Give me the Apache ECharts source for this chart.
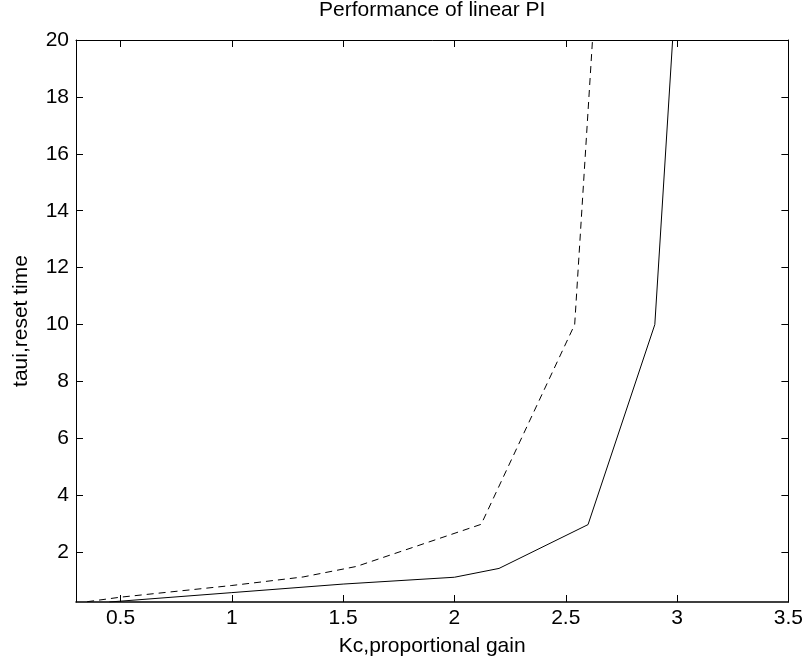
<!DOCTYPE html>
<html>
<head>
<meta charset="utf-8">
<script src="https://cdn.jsdelivr.net/npm/echarts@6/dist/echarts.min.js"></script>
<style>html,body{margin:0;padding:0;background:#fff}#c{width:806px;height:662px}</style>
</head>
<body>
<div id="c"></div>
<script>
const titleText = "Performance of linear PI";
const xName = "Kc,proportional gain";
const yName = "taui,reset time";
const xTicks = [0.5, 1, 1.5, 2, 2.5, 3, 3.5];
const yTicks = [2, 4, 6, 8, 10, 12, 14, 16, 18, 20];
const solidKc = [0.45, 1.0, 1.5, 2.0, 2.2, 2.6, 2.9, 2.98];
const solidTaui = [0.25, 0.58, 0.88, 1.12, 1.43, 2.97, 10.0, 20.0];
const dashedKc = [0.35, 0.5, 1.0, 1.32, 1.56, 2.12, 2.54, 2.62];
const dashedTaui = [0.26, 0.42, 0.83, 1.13, 1.5, 2.98, 10.0, 20.0];

const F = 'Liberation Sans';
const black = '#000';
const chart = echarts.init(document.getElementById('c'));
const pair = (xs, ys) => xs.map((x, i) => [x, ys[i]]);
const baseAxis = {
  type: 'value',
  axisLine: { show: true, onZero: false, lineStyle: { color: black, width: 1 } },
  splitLine: { show: false },
};
chart.setOption({
  animation: false,
  backgroundColor: '#fff',
  title: { text: titleText, left: 319, top: 0, padding: 0,
    textStyle: { fontFamily: F, fontSize: 21, fontWeight: 'normal', color: black } },
  grid: { left: 76, right: 17, top: 40, bottom: 59, containLabel: false },
  xAxis: [
    Object.assign({}, baseAxis, {
      min: 0.3, max: 3.5, position: 'bottom',
      axisLine: { show: true, onZero: false, lineStyle: { color: black, width: 1.5 } },
      axisTick: { show: true, inside: true, length: 7, customValues: xTicks, lineStyle: { color: black } },
      axisLabel: { customValues: xTicks, margin: 6, fontFamily: F, fontSize: 21, color: black },
      name: xName, nameLocation: 'middle', nameGap: 34,
      nameTextStyle: { fontFamily: F, fontSize: 21, color: black }
    }),
    Object.assign({}, baseAxis, {
      min: 0.3, max: 3.5, position: 'top',
      axisTick: { show: true, inside: true, length: 7, customValues: xTicks, lineStyle: { color: black } },
      axisLabel: { show: false }
    })
  ],
  yAxis: [
    Object.assign({}, baseAxis, {
      min: 0.25, max: 20, position: 'left',
      axisTick: { show: true, inside: true, length: 7, customValues: yTicks, lineStyle: { color: black } },
      axisLabel: { customValues: yTicks, margin: 7, fontFamily: F, fontSize: 21, color: black },
      name: yName, nameLocation: 'middle', nameGap: 44,
      nameTextStyle: { fontFamily: F, fontSize: 21, color: black }
    }),
    Object.assign({}, baseAxis, {
      min: 0.25, max: 20, position: 'right',
      axisTick: { show: true, inside: true, length: 7, customValues: yTicks, lineStyle: { color: black } },
      axisLabel: { show: false }
    })
  ],
  series: [
    { type: 'line', data: pair(solidKc, solidTaui), symbol: 'none', clip: true,
      lineStyle: { color: black, width: 1 } },
    { type: 'line', data: pair(dashedKc, dashedTaui), symbol: 'none', clip: true,
      lineStyle: { color: black, width: 1, type: [7, 5] } }
  ]
});
</script>
</body>
</html>
